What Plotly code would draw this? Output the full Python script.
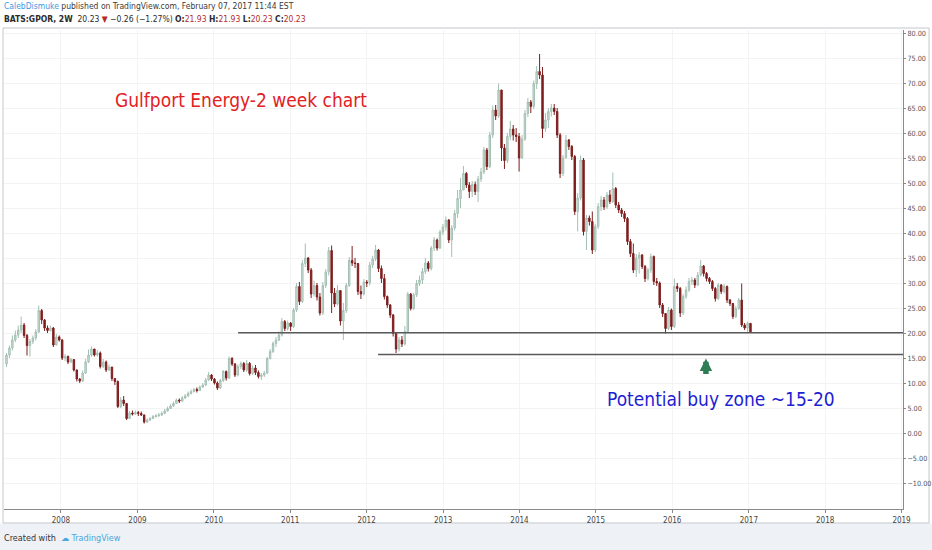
import pandas as pd
import plotly.graph_objects as go

# 2 week candles for BATS:GPOR (open = previous close)
first_open = 13.8
start_date = "2007-04-16"

closes = [15.6, 17.0, 18.6, 19.6, 20.6, 21.6, 19.5, 17.5, 18.3, 19.0,
          20.2, 24.5, 22.6, 21.0, 20.5, 21.0, 17.6, 19.2, 18.6, 15.0,
          15.3, 14.2, 14.7, 12.6, 10.8, 10.4, 12.0, 14.2, 15.6, 16.8,
          15.6, 16.0, 13.3, 14.2, 12.6, 13.2, 10.9, 10.3, 5.3, 6.6,
          5.9, 2.9, 4.0, 3.8, 4.1, 3.9, 3.6, 2.2, 2.6, 2.9,
          3.3, 3.4, 3.6, 3.9, 4.4, 4.9, 5.4, 5.9, 6.6, 6.4,
          7.0, 7.4, 7.9, 8.3, 8.7, 8.5, 9.2, 9.6, 10.6, 11.6,
          10.8, 10.0, 9.0, 10.5, 12.3, 11.0, 14.9, 13.8, 11.6, 13.3,
          13.9, 12.6, 13.9, 11.9, 13.0, 12.1, 11.3, 11.6, 12.0, 14.9,
          16.3, 17.9, 18.6, 19.6, 22.3, 20.9, 22.0, 21.3, 24.6, 29.3,
          26.3, 33.9, 35.0, 32.6, 27.8, 29.5, 27.2, 24.0, 29.5, 32.2,
          36.5, 28.0, 25.8, 28.5, 22.4, 24.5, 29.5, 34.5, 34.0, 33.9,
          28.3, 27.8, 30.2, 30.0, 33.6, 34.8, 36.6, 32.9, 30.9, 27.3,
          25.6, 23.6, 19.9, 16.8, 18.6, 17.8, 20.3, 27.8, 24.9, 27.6,
          29.9, 30.6, 32.3, 34.0, 32.9, 37.0, 38.6, 37.0, 40.2, 41.2,
          42.6, 38.6, 41.0, 43.9, 46.9, 48.6, 51.9, 49.6, 48.3, 49.7,
          48.3, 50.8, 52.2, 56.6, 53.3, 59.6, 64.6, 63.4, 68.6, 57.0,
          54.5, 59.3, 60.8, 59.6, 59.3, 55.0, 58.8, 63.9, 66.2, 65.3,
          69.9, 72.3, 71.6, 60.9, 62.6, 64.3, 65.0, 64.3, 59.6, 51.9,
          55.0, 58.6, 57.3, 55.3, 44.3, 47.0, 54.6, 40.3, 43.0, 42.3,
          36.6, 41.3, 45.3, 46.6, 45.2, 47.6, 46.3, 48.9, 45.6, 44.6,
          43.9, 42.9, 38.3, 35.9, 32.6, 35.0, 35.6, 33.3, 30.9, 32.6,
          35.3, 30.3, 30.0, 25.6, 23.9, 20.9, 24.6, 21.3, 29.3, 28.9,
          24.0, 27.3, 28.6, 30.3, 30.6, 29.6, 31.6, 33.4, 31.9, 30.9,
          30.3, 28.9, 26.9, 29.6, 28.3, 29.3, 26.6, 25.9, 23.3, 24.9,
          26.6, 21.6, 21.0, 21.93, 20.23]

highs = [16.0, 17.5, 19.5, 20.5, 21.5, 23.3, 22.0, 19.8, 18.8, 19.5,
         20.8, 25.5, 24.8, 22.8, 21.5, 21.5, 21.2, 19.8, 19.5, 18.8,
         15.8, 15.5, 15.0, 14.6, 12.7, 11.0, 12.5, 14.8, 16.7, 17.3,
         16.8, 16.6, 16.3, 14.8, 14.5, 13.7, 13.2, 11.0, 10.5, 7.2,
         7.4, 6.0, 4.4, 4.5, 4.5, 4.4, 4.3, 3.7, 2.9, 3.2,
         3.6, 3.8, 4.0, 4.3, 4.8, 5.3, 5.8, 6.3, 6.9, 6.9,
         7.4, 7.8, 8.3, 8.7, 9.0, 9.1, 9.5, 10.0, 11.0, 12.2,
         11.8, 11.0, 10.3, 10.8, 12.6, 12.5, 15.3, 15.2, 14.0, 13.7,
         14.3, 14.2, 14.6, 14.2, 13.5, 13.6, 12.5, 12.0, 12.4, 15.2,
         16.8, 18.3, 19.2, 20.3, 23.0, 22.6, 22.5, 22.2, 25.0, 30.0,
         30.2, 34.6, 37.9, 35.2, 33.0, 30.5, 30.0, 28.0, 30.2, 32.8,
         37.2, 37.5, 29.0, 29.6, 28.0, 26.0, 30.0, 35.2, 37.4, 35.0,
         34.0, 29.5, 30.8, 30.6, 34.2, 35.4, 37.6, 36.8, 33.5, 31.8,
         27.5, 25.8, 23.8, 20.0, 19.2, 19.4, 21.4, 28.2, 28.0, 28.0,
         30.6, 31.5, 33.0, 35.0, 34.4, 37.4, 39.2, 38.9, 40.6, 41.8,
         43.3, 42.8, 41.6, 44.6, 48.6, 51.0, 53.4, 52.2, 50.2, 50.4,
         50.3, 51.4, 53.0, 57.2, 57.0, 60.2, 65.5, 65.6, 69.9, 68.6,
         57.8, 60.0, 62.4, 61.6, 61.0, 60.0, 59.6, 64.6, 67.0, 66.6,
         70.5, 73.4, 75.8, 73.2, 64.0, 65.0, 65.8, 65.8, 65.0, 60.0,
         55.6, 59.6, 58.8, 57.6, 55.6, 48.0, 55.5, 55.0, 43.6, 43.5,
         44.3, 41.8, 46.0, 47.4, 47.2, 48.2, 48.6, 52.1, 49.2, 46.2,
         45.0, 44.4, 43.2, 38.8, 37.9, 35.8, 36.2, 35.8, 33.6, 33.0,
         35.9, 35.5, 31.0, 30.3, 26.0, 24.0, 25.2, 24.9, 30.9, 30.0,
         29.2, 27.8, 29.3, 31.0, 31.2, 31.0, 32.2, 34.6, 33.6, 32.2,
         31.2, 30.6, 29.2, 30.0, 29.8, 29.8, 29.5, 26.8, 26.0, 25.4,
         27.0, 29.9, 22.0, 22.3, 21.93]

lows = [13.2, 15.0, 16.5, 18.2, 19.0, 20.0, 19.0, 15.5, 15.3, 17.8,
        18.5, 20.0, 21.8, 20.4, 20.0, 20.3, 17.2, 17.5, 18.3, 14.6,
        14.4, 13.8, 14.0, 12.3, 10.3, 10.0, 10.2, 11.8, 14.0, 15.2,
        15.3, 15.3, 12.9, 13.0, 12.2, 12.4, 10.4, 9.6, 5.0, 5.0,
        5.4, 2.6, 2.8, 3.5, 3.6, 3.4, 3.4, 1.9, 2.0, 2.4,
        2.8, 3.1, 3.3, 3.4, 3.8, 4.3, 4.8, 5.2, 5.8, 6.0,
        6.2, 6.8, 7.2, 7.7, 8.1, 8.1, 8.4, 9.0, 9.4, 10.4,
        10.4, 9.7, 8.6, 8.8, 10.2, 10.5, 10.8, 13.4, 11.2, 11.3,
        12.8, 12.2, 12.2, 11.5, 11.6, 11.6, 10.9, 10.6, 11.2, 11.8,
        14.7, 16.0, 17.2, 18.4, 19.3, 20.4, 20.5, 20.4, 21.0, 24.2,
        25.6, 26.0, 33.2, 32.0, 27.0, 27.3, 26.5, 23.5, 23.6, 29.0,
        31.5, 24.0, 25.2, 25.5, 21.5, 18.6, 24.0, 29.2, 33.4, 33.0,
        27.6, 26.8, 27.5, 29.2, 29.5, 33.0, 34.4, 32.2, 30.0, 26.7,
        25.0, 23.0, 19.3, 16.0, 16.3, 17.2, 17.5, 20.2, 24.5, 24.6,
        27.2, 29.4, 29.8, 31.8, 32.3, 32.5, 36.4, 36.5, 36.8, 39.6,
        40.5, 38.0, 35.2, 40.5, 43.0, 45.0, 48.8, 49.0, 47.0, 47.2,
        47.6, 46.2, 50.2, 51.8, 52.6, 53.0, 59.0, 62.6, 63.0, 54.4,
        52.8, 54.0, 58.6, 58.5, 58.2, 52.3, 54.8, 58.4, 63.2, 64.0,
        64.8, 68.8, 70.8, 59.0, 60.2, 61.0, 63.3, 63.6, 59.0, 51.0,
        51.4, 55.0, 56.6, 54.6, 43.6, 40.3, 46.5, 39.5, 36.6, 41.5,
        35.8, 36.2, 40.8, 44.4, 44.6, 44.8, 45.8, 46.0, 45.0, 44.0,
        43.2, 42.2, 37.6, 35.2, 32.0, 31.2, 31.9, 32.8, 30.2, 30.5,
        32.0, 29.6, 29.4, 25.0, 23.2, 19.9, 20.6, 20.6, 21.0, 28.2,
        23.2, 23.6, 26.8, 28.2, 29.6, 29.0, 29.4, 31.3, 31.3, 30.3,
        29.8, 28.4, 26.3, 26.6, 27.8, 27.9, 26.0, 25.4, 22.8, 23.0,
        24.6, 21.2, 20.6, 20.2, 20.23]

# drawn support lines: level and the date where each one starts
support_levels = [20.06, 15.7]
support_starts = ["2010-04-27", "2012-02-25"]

# text notes drawn on the chart
note_title = "Gulfport Energy-2 week chart"
note_title_at = ("2010-05-10", 66.6)
note_zone = "Potential buy zone ~15-20"
note_zone_at = ("2016-08-20", 6.8)
arrow_at = ("2016-06-10", 14.9, 11.5)

x_range = ["2007-04-04", "2019-01-08"]
y_range = [-15.2, 80.6]
y_ticks = [-10, -5, 0, 5, 10, 15, 20, 25, 30, 35, 40, 45, 50, 55, 60, 65, 70, 75, 80]

FONT = "DejaVu Sans Condensed, DejaVu Sans, sans-serif"


def build_candles():
    dates = pd.date_range(start_date, periods=len(closes), freq="14D")
    opens = [first_open] + closes[:-1]
    # keep the wicks around the bodies
    hi = [max(h, o, c) for h, o, c in zip(highs, opens, closes)]
    lo = [min(l, o, c) for l, o, c in zip(lows, opens, closes)]
    df = pd.DataFrame({'date': dates, 'open': opens, 'high': hi, 'low': lo, 'close': closes})
    return df


def main():
    df = build_candles()

    fig = go.Figure(go.Candlestick(
        x=df['date'], open=df['open'], high=df['high'], low=df['low'], close=df['close'],
        increasing=dict(line=dict(color='#a3bfb2', width=1), fillcolor='#cfe3d9'),
        decreasing=dict(line=dict(color='#7e1f1f', width=1), fillcolor='#861c1c'),
        whiskerwidth=0, showlegend=False, hoverinfo='skip'))

    # white chart box with the header on top
    fig.add_shape(type='rect', xref='paper', yref='paper', x0=-0.02, x1=1.04, y0=-0.03, y1=1.07,
                  fillcolor='white', line=dict(width=0), layer='below')
    fig.add_shape(type='rect', xref='paper', yref='paper', x0=-0.0011, x1=1.029, y0=-0.0292, y1=1.0042,
                  fillcolor='rgba(0,0,0,0)', line=dict(color='#c3c6cb', width=1), layer='below')

    # support lines run to the right edge
    for level, start in zip(support_levels, support_starts):
        fig.add_shape(type='line', xref='x', yref='y', x0=start, x1=x_range[1], y0=level, y1=level,
                      line=dict(color='#5a5a5a', width=1.5))

    fig.add_annotation(x=note_title_at[0], y=note_title_at[1], text=note_title, showarrow=False,
                       font=dict(family=FONT, size=19, color='#e3211f'))
    fig.add_annotation(x=note_zone_at[0], y=note_zone_at[1], text=note_zone, showarrow=False,
                       font=dict(family=FONT, size=19, color='#1e1ed2'))
    fig.add_annotation(x=arrow_at[0], y=arrow_at[1], ax=arrow_at[0], ay=arrow_at[2],
                       xref='x', yref='y', axref='x', ayref='y', text='', showarrow=True,
                       arrowhead=2, arrowsize=0.45, arrowwidth=5.5, arrowcolor='#2f7d55')

    # header lines
    red = '#b52b2b'
    line1 = ("<span style='color:#3d9be0'>CalebDismuke</span>"
             " published on TradingView.com, February 07, 2017 11:44 EST")
    line2 = ("<b>BATS:GPOR, 2W</b>  20.23 <span style='color:%s'>▼</span> −0.26 (−1.27%%) "
             "<b>O:</b><span style='color:%s'>21.93</span> <b>H:</b><span style='color:%s'>21.93</span> "
             "<b>L:</b><span style='color:%s'>20.23</span> <b>C:</b><span style='color:%s'>20.23</span>"
             % (red, red, red, red, red))
    fig.add_annotation(text=line1, xref='paper', yref='paper', x=-0.002, y=1.0495, xanchor='left',
                       yanchor='middle', showarrow=False, font=dict(family=FONT, size=8.5, color='#3b3b3b'))
    fig.add_annotation(text=line2, xref='paper', yref='paper', x=-0.002, y=1.0225, xanchor='left',
                       yanchor='middle', showarrow=False, font=dict(family=FONT, size=8.5, color='#2b2b2b'))

    # footer
    fig.add_annotation(text="Created with  <span style='color:#4aa6dc'>☁ TradingView</span>",
                       xref='paper', yref='paper', x=-0.002, y=-0.0605, xanchor='left', yanchor='middle',
                       showarrow=False, font=dict(family=FONT, size=9, color='#333333'))

    fig.update_layout(
        width=932, height=550,
        margin=dict(l=4, r=29, t=30, b=41, autoexpand=False),
        paper_bgcolor='#eef2f6', plot_bgcolor='white',
        showlegend=False,
        font=dict(family=FONT, size=8, color='#4a4a4a'),
    )
    fig.update_xaxes(range=x_range, rangeslider_visible=False, type='date', dtick='M12',
                     tickformat='%Y', ticks='outside', ticklen=3, tickcolor='#888', automargin=False,
                     showgrid=True, gridcolor='#f3f3f3', showline=True, linecolor='#8a8a8a',
                     tickfont=dict(family=FONT, size=8, color='#444'), zeroline=False)
    fig.update_yaxes(range=y_range, side='right', tickvals=y_ticks, tickformat='.2f', automargin=False,
                     ticks='outside', ticklen=2, tickcolor='#888', showgrid=True, gridcolor='#f3f3f3',
                     showline=True, linecolor='#8a8a8a', zeroline=False,
                     tickfont=dict(family=FONT, size=7.2, color='#555'))

    # the page puts an 8px margin round the body; drop it so the chart sits at the corner
    fig.write_html("out.html", config={'displayModeBar': False},
                   post_script="document.body.style.margin='0';")


if __name__ == "__main__":
    main()
